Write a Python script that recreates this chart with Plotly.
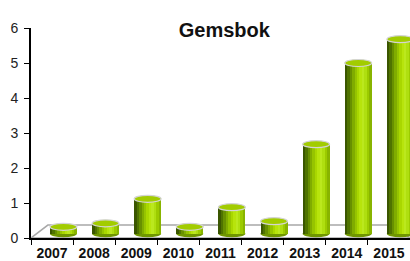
import plotly.graph_objects as go

years = ["2007", "2008", "2009", "2010", "2011", "2012", "2013", "2014", "2015"]
values = [0.32, 0.42, 1.12, 0.32, 0.88, 0.48, 2.68, 5.0, 5.68]
title_text = "Gemsbok"
y_ticks = [0, 1, 2, 3, 4, 5, 6]

FLOOR = 0.12
BAR_W = 0.64
SHIFT = 0.27
stripes = ["#3a5600", "#4f7300", "#689000", "#80ac00", "#96c400", "#a9d700",
           "#b7e40c", "#bbe81e", "#afdf10", "#9ccb00", "#88b400"]

fig = go.Figure()
n = len(stripes)
sw = BAR_W / n
for k, c in enumerate(stripes):
    fig.add_trace(go.Bar(
        x=years, y=[v - FLOOR for v in values], base=FLOOR,
        width=sw * 1.05, offset=-BAR_W / 2 + SHIFT + k * sw,
        marker=dict(color=c, line=dict(width=0)),
        hoverinfo="skip", showlegend=False, cliponaxis=False))

shapes = []
# floor
shapes.append(dict(type="path", xref="x", yref="y",
                   path="M -0.5,0 L -0.1,0.37 L 8.07,0.37 L 8.5,0 Z",
                   line=dict(color="#a8a8a8", width=1.5), fillcolor="white", layer="below"))
for i, v in enumerate(values):
    x0 = i - BAR_W / 2 + SHIFT
    x1 = i + BAR_W / 2 + SHIFT
    shapes.append(dict(type="circle", xref="x", yref="y", x0=x0, x1=x1,
                       y0=FLOOR - 0.1, y1=FLOOR + 0.1,
                       fillcolor="#6f9600", line=dict(width=0), layer="below"))
    shapes.append(dict(type="circle", xref="x", yref="y", x0=x0, x1=x1,
                       y0=v - 0.1, y1=v + 0.1,
                       fillcolor="#a2cc00", line=dict(color="#d4d4d4", width=1.2), layer="above"))

fig.update_layout(
    width=410, height=261,
    margin=dict(l=31, r=0, t=28, b=23, autoexpand=False),
    paper_bgcolor="white", plot_bgcolor="white",
    barmode="overlay", bargap=0,
    shapes=shapes,
    font=dict(family="Liberation Sans, Arial, sans-serif", color="#222"),
    title=dict(text="<b>" + title_text + "</b>", x=0.51, xref="paper",
               y=1 - 30 / 261, yref="container", yanchor="middle",
               font=dict(size=20, color="#111")),
    xaxis=dict(type="category", range=[-0.5, 8.5], showgrid=False, automargin=False,
               showline=True, linecolor="black", linewidth=1.5,
               ticks="outside", tickson="boundaries", ticklen=5, tickcolor="black",
               tickangle=0, ticklabelstandoff=1,
               tickfont=dict(size=14, color="#111", weight="bold")),
    yaxis=dict(range=[0, 6], tickvals=y_ticks, showgrid=False, zeroline=False, automargin=False,
               showline=True, linecolor="black", linewidth=2,
               ticks="outside", ticklen=5, tickcolor="black",
               ticklabelstandoff=3,
               tickfont=dict(size=14, color="#222")),
)
fig.write_html("out.html", config={"displayModeBar": False},
               post_script="document.body.style.margin='0';document.body.style.overflow='hidden';")
